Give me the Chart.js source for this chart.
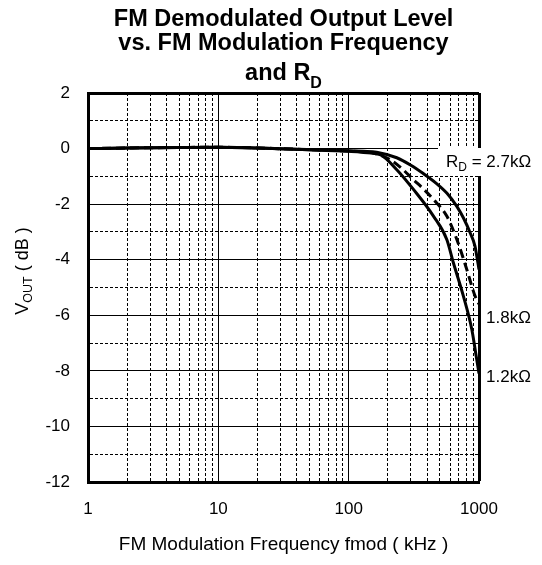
<!DOCTYPE html>
<html>
<head>
<meta charset="utf-8">
<script src="https://cdn.jsdelivr.net/npm/chart.js@4.4.0/dist/chart.umd.min.js"></script>
<style>
  html, body { margin: 0; padding: 0; background: #fff; }
</style>
</head>
<body>
<canvas id="fmChart" width="542" height="565"></canvas>
<script>
// axis grid values
const decades = [1, 10, 100, 1000];
const minorSteps = [2, 3, 4, 5, 6, 7, 8, 9];
const dbMin = -12;
const dbMax = 2;

// R_D = 2.7k (top solid curve)
const freq27 = [1, 2, 5, 10, 20, 50, 100, 130, 164, 234, 300, 374, 470, 566, 676, 760, 855, 930, 1000];
const vout27 = [0, 0.02, 0.04, 0.05, 0.02, -0.04, -0.08, -0.1, -0.13, -0.33, -0.6, -0.9, -1.25, -1.6, -2.08, -2.5, -3.03, -3.5, -4.35];

// R_D = 1.8k (dashed curve)
const freq18 = [1, 2, 5, 10, 20, 50, 100, 130, 160, 208, 260, 314, 380, 447, 566, 676, 806, 933, 1000];
const vout18 = [0, 0.02, 0.04, 0.05, 0.02, -0.04, -0.09, -0.12, -0.18, -0.4, -0.75, -1.12, -1.48, -1.83, -2.43, -3.27, -4.35, -5.31, -5.6];

// R_D = 1.2k (bottom solid curve)
const freq12 = [1, 2, 5, 10, 20, 50, 100, 130, 174, 234, 314, 447, 566, 636, 759, 881, 950, 1000];
const vout12 = [0, 0.02, 0.04, 0.05, 0.02, -0.04, -0.1, -0.14, -0.22, -0.76, -1.47, -2.43, -3.27, -4.11, -5.31, -6.51, -7.45, -8.1];

const FONT = '"Liberation Sans", Arial, sans-serif';
Chart.defaults.font.family = FONT;
Chart.defaults.color = '#000';

// gridline positions on the log axis: 1..9, 10..90, 100..900, 1000
const xGrid = decades.flatMap(d => d === 1000 ? [d] : [d, ...minorSteps.map(m => m * d)]);

function toPoints(xs, ys) {
  return xs.map((x, i) => ({ x: x, y: ys[i] }));
}

// draws a run of text pieces (for subscripts)
function richText(ctx, parts, x, y, align) {
  let total = 0;
  parts.forEach(p => { ctx.font = p[1]; total += ctx.measureText(p[0]).width; });
  let cx = align === 'center' ? x - total / 2 : x;
  parts.forEach(p => {
    ctx.font = p[1];
    ctx.fillText(p[0], cx, y + (p[2] || 0));
    cx += ctx.measureText(p[0]).width;
  });
}

const textPlugin = {
  id: 'textPlugin',
  afterDraw(chart) {
    const ctx = chart.ctx;
    const area = chart.chartArea;
    const midX = (area.left + area.right) / 2;
    ctx.save();
    ctx.fillStyle = '#000';
    ctx.textAlign = 'left';
    ctx.textBaseline = 'alphabetic';

    // title
    const tf = 'bold 23.5px ' + FONT;
    richText(ctx, [['FM Demodulated Output Level', tf]], midX, 26, 'center');
    richText(ctx, [['vs. FM Modulation Frequency', tf]], midX, 50, 'center');
    richText(ctx, [['and R', tf], ['D', 'bold 16px ' + FONT, 8]], midX, 80, 'center');

    // y axis title
    ctx.save();
    ctx.translate(28, 271);
    ctx.rotate(-Math.PI / 2);
    richText(ctx, [['V', '18px ' + FONT], ['OUT', '12.5px ' + FONT, 4], [' ( dB )', '18px ' + FONT]], 0, 0, 'center');
    ctx.restore();

    // curve labels
    ctx.fillStyle = '#fff';
    ctx.fillRect(438, 148, 104, 28);
    ctx.fillStyle = '#000';
    richText(ctx, [['R', '17px ' + FONT], ['D', '12px ' + FONT, 4], [' = 2.7kΩ', '17px ' + FONT]], 446, 167, 'left');
    richText(ctx, [['1.8kΩ', '17px ' + FONT]], 486, 323, 'left');
    richText(ctx, [['1.2kΩ', '17px ' + FONT]], 486, 382, 'left');
    ctx.restore();
  }
};

const lineStyle = {
  borderColor: '#000',
  backgroundColor: '#000',
  borderWidth: 3,
  pointRadius: 0,
  fill: false,
  cubicInterpolationMode: 'monotone'
};

new Chart(document.getElementById('fmChart').getContext('2d'), {
  type: 'line',
  data: {
    datasets: [
      Object.assign({ label: 'RD = 2.7kΩ', data: toPoints(freq27, vout27) }, lineStyle),
      Object.assign({ label: '1.8kΩ', data: toPoints(freq18, vout18), borderDash: [9, 5] }, lineStyle),
      Object.assign({ label: '1.2kΩ', data: toPoints(freq12, vout12) }, lineStyle)
    ]
  },
  options: {
    responsive: false,
    animation: false,
    layout: { padding: { top: 93, right: 63, bottom: 0, left: 0 } },
    plugins: {
      legend: { display: false },
      title: { display: false },
      tooltip: { enabled: false }
    },
    scales: {
      x: {
        type: 'logarithmic',
        min: 1,
        max: 1000,
        afterBuildTicks: s => { s.ticks = xGrid.map(v => ({ value: v })); },
        afterFit: s => { s.height = 83; },
        ticks: {
          autoSkip: false,
          maxRotation: 0,
          padding: 17,
          font: { size: 17 },
          callback: v => decades.includes(v) ? String(v) : ''
        },
        grid: {
          color: '#000',
          drawTicks: false,
          lineWidth: c => (c.tick && c.tick.value === 1000) ? 3 : 1
        },
        border: {
          color: '#000',
          width: 3,
          dash: c => (c.tick && !decades.includes(c.tick.value)) ? [3, 2] : []
        },
        title: {
          display: true,
          text: 'FM Modulation Frequency fmod ( kHz )',
          font: { size: 19 },
          padding: { top: 0, bottom: 9 }
        }
      },
      y: {
        min: dbMin,
        max: dbMax,
        afterFit: s => { s.width = 88; },
        ticks: {
          stepSize: 1,
          autoSkip: false,
          padding: 18,
          font: { size: 17 },
          callback: v => v % 2 === 0 ? String(v) : ''
        },
        grid: {
          color: '#000',
          drawTicks: false,
          lineWidth: c => (c.tick && c.tick.value === dbMax) ? 3 : 1
        },
        border: {
          color: '#000',
          width: 3,
          dash: c => (c.tick && c.tick.value % 2 !== 0) ? [3, 2] : []
        }
      }
    }
  },
  plugins: [textPlugin]
});
</script>
</body>
</html>
